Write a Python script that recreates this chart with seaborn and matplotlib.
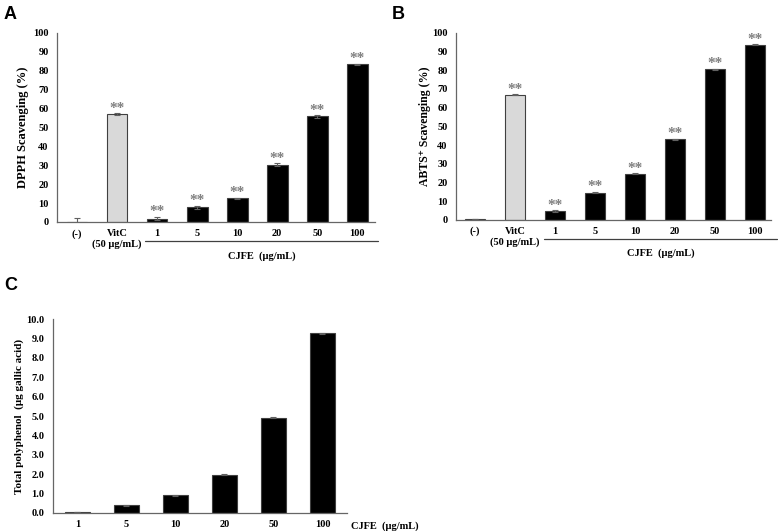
import numpy as np
import pandas as pd
import matplotlib
matplotlib.use("Agg")
import matplotlib.pyplot as plt
import matplotlib.transforms as mtransforms
import seaborn as sns

# ---------------------------------------------------------------
# data
# ---------------------------------------------------------------
dose_labels = ["(-)", "VitC\n(50 μg/mL)", "1", "5", "10", "20", "50", "100"]
dpph_mean = [0.2, 57.0, 1.8, 7.8, 12.5, 30.3, 55.8, 83.3]
dpph_err = [1.8, 0.5, 1.0, 0.7, 0.4, 0.7, 0.6, 0.4]
abts_mean = [0.3, 67.0, 4.6, 14.6, 24.6, 43.0, 80.5, 93.8]
abts_err = [0.1, 0.1, 0.4, 0.3, 0.2, 0.2, 0.2, 0.2]
sig_marks = ["", "**", "**", "**", "**", "**", "**", "**"]

poly_labels = ["1", "5", "10", "20", "50", "100"]
poly_mean = [0.05, 0.40, 0.92, 1.97, 4.92, 9.27]
poly_err = [0.01, 0.02, 0.03, 0.03, 0.02, 0.03]

bar_colors = ["white", "#d9d9d9"] + ["black"] * 6

sns.set_theme(style="white")
plt.rcParams["font.family"] = ["Liberation Serif", "DejaVu Serif"]
plt.rcParams["font.weight"] = "bold"
plt.rcParams["text.color"] = "black"
plt.rcParams["axes.labelcolor"] = "black"

SPINE = "#666666"
STAR = "#7f7f7f"


def style_axes(ax, ylabel, ylabel_size, ypad):
    sns.despine(ax=ax)
    for s in ("left", "bottom"):
        ax.spines[s].set_color(SPINE)
        ax.spines[s].set_linewidth(0.9)
    ax.tick_params(axis="both", length=0, labelsize=7.5, colors="black")
    ax.tick_params(axis="y", pad=6)
    ax.tick_params(axis="x", pad=5)
    ax.set_xlabel("")
    ax.set_ylabel(ylabel, fontsize=ylabel_size, fontweight="bold", labelpad=ypad)
    for t in ax.get_xticklabels() + ax.get_yticklabels():
        t.set_fontweight("bold")


def draw_panel(ax, labels, means, errs, colors, marks, ylabel, ylabel_size, ypad):
    df = pd.DataFrame({"dose": labels, "val": means})
    sns.barplot(data=df, x="dose", y="val", hue="dose", order=labels,
                palette=dict(zip(labels, colors)), legend=False,
                errorbar=None, width=0.52, edgecolor="#404040",
                linewidth=0.8, ax=ax)
    xs = np.arange(len(labels))
    ax.errorbar(xs, means, yerr=errs, fmt="none", ecolor="#606060",
                elinewidth=0.8, capsize=2.5, capthick=0.8)
    if marks is not None:
        for x, m, e, s in zip(xs, means, errs, marks):
            if s:
                ax.annotate(s, (x, m + e), xytext=(0, -1),
                            textcoords="offset points", ha="center",
                            va="bottom", fontsize=11, color=STAR,
                            fontweight="bold")
    style_axes(ax, ylabel, ylabel_size, ypad)


fig = plt.figure(figsize=(7.78, 5.31), dpi=100)

# ---- A : DPPH
axA = fig.add_axes([0.0733, 0.582, 0.409, 0.356])
draw_panel(axA, dose_labels, dpph_mean, dpph_err, bar_colors, sig_marks,
           "DPPH Scavenging (%)", 9, 3)
axA.set_ylim(0, 100)
axA.set_yticks(np.arange(0, 101, 10))
axA.set_xlim(-0.5, 7.45)

# ---- B : ABTS
axB = fig.add_axes([0.586, 0.586, 0.405, 0.352])
draw_panel(axB, dose_labels, abts_mean, abts_err, bar_colors, sig_marks,
           "ABTS⁺ Scavenging (%)", 8.5, 1)
axB.set_ylim(0, 100)
axB.set_yticks(np.arange(0, 101, 10))
axB.set_xlim(-0.475, 7.4)

# CJFE bracket under the extract doses
for ax, x0, x1 in ((axA, 1.7, 7.52), (axB, 1.72, 7.55)):
    trans = mtransforms.blended_transform_factory(ax.transData, ax.transAxes)
    ax.plot([x0, x1], [-0.10, -0.10], transform=trans, clip_on=False,
            color="#404040", lw=0.9)
    ax.text((x0 + x1) / 2, -0.18, "CJFE  (μg/mL)", transform=trans,
            ha="center", va="center", fontsize=7.5, fontweight="bold")

# ---- C : total polyphenol
axC = fig.add_axes([0.068, 0.034, 0.378, 0.365])
draw_panel(axC, poly_labels, poly_mean, poly_err, ["black"] * 6, None,
           "Total polyphenol  (μg gallic acid)", 8, 2)
axC.set_ylim(0, 10)
axC.set_yticks(np.arange(0, 10.1, 1.0))
axC.set_yticklabels([f"{v:.1f}" for v in np.arange(0, 10.1, 1.0)],
                    fontweight="bold")
axC.set_xlim(-0.5, 5.5)
axC.text(1.015, -0.07, "CJFE  (μg/mL)", transform=axC.transAxes,
         ha="left", va="center", fontsize=7.5, fontweight="bold")

# panel letters
for x, y, s in ((0.005, 0.972, "A"), (0.504, 0.972, "B"), (0.005, 0.462, "C")):
    fig.text(x, y, s, fontsize=13, fontweight="bold", color="black",
             family=["Liberation Sans", "DejaVu Sans"], ha="left", va="center")

fig.savefig("out.png", dpi=100)
